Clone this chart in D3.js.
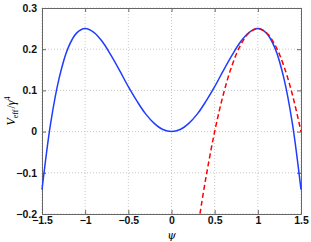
<!DOCTYPE html>
<html>
<head>
<meta charset="utf-8">
<script src="https://cdn.jsdelivr.net/npm/d3@7"></script>
<style>
body { margin: 0; background: #fff; }
</style>
</head>
<body>
<script>
var width = 311
var height = 242

// values
var psi = [-1.5, -1.4, -1.3, -1.2, -1.1, -1.0, -0.9, -0.8, -0.7, -0.6, -0.5, -0.4, -0.3, -0.2, -0.1,
  0, 0.1, 0.2, 0.3, 0.4, 0.5, 0.6, 0.7, 0.8, 0.9, 1.0, 1.1, 1.2, 1.3, 1.4, 1.5]
var veff = [-0.141, 0.020, 0.131, 0.202, 0.239, 0.250, 0.241, 0.218, 0.185, 0.148, 0.109, 0.074, 0.043, 0.020, 0.005,
  0, 0.005, 0.020, 0.043, 0.074, 0.109, 0.148, 0.185, 0.218, 0.241, 0.250, 0.239, 0.202, 0.131, 0.020, -0.141]

var psiApprox = [0.33, 0.4, 0.5, 0.6, 0.7, 0.8, 0.9, 1.0, 1.1, 1.2, 1.3, 1.4, 1.5]
var vApprox = [-0.199, -0.110, 0, 0.090, 0.160, 0.210, 0.240, 0.250, 0.240, 0.210, 0.160, 0.090, 0]

var xTicks = [-1.5, -1, -0.5, 0, 0.5, 1, 1.5]
var yTicks = [-0.2, -0.1, 0, 0.1, 0.2, 0.3]

var margin = { top: 8, bottom: 28, left: 42, right: 10 }
var w = width - margin.left - margin.right
var h = height - margin.top - margin.bottom

var svg = d3.select("body").append("svg")
  .attr("width", width)
  .attr("height", height)

var g = svg.append("g")
  .attr("transform", "translate(" + margin.left + "," + margin.top + ")")

var x = d3.scaleLinear().domain([-1.5, 1.5]).range([0, w])
var y = d3.scaleLinear().domain([-0.2, 0.3]).range([h, 0])

function fmt(v) {
  return d3.format("")(v).replace("-", "\u2013")
}

// grid
g.selectAll("line.gx").data(xTicks).enter().append("line")
  .attr("x1", function(d){ return x(d) }).attr("x2", function(d){ return x(d) })
  .attr("y1", 0).attr("y2", h)
  .attr("stroke", "#c8c8c8").attr("stroke-dasharray", "1,2")
g.selectAll("line.gy").data(yTicks).enter().append("line")
  .attr("y1", function(d){ return y(d) }).attr("y2", function(d){ return y(d) })
  .attr("x1", 0).attr("x2", w)
  .attr("stroke", "#c8c8c8").attr("stroke-dasharray", "1,2")

// axes
g.append("g")
  .attr("transform", "translate(0," + h + ")")
  .call(d3.axisBottom(x).tickValues(xTicks).tickSizeInner(-4).tickSizeOuter(0).tickPadding(3).tickFormat(fmt))
g.append("g")
  .call(d3.axisLeft(y).tickValues(yTicks).tickSizeInner(-4).tickSizeOuter(0).tickPadding(5).tickFormat(fmt))
g.append("g")
  .call(d3.axisTop(x).tickValues(xTicks).tickSizeInner(-4).tickSizeOuter(0).tickFormat(""))
g.append("g")
  .attr("transform", "translate(" + w + ",0)")
  .call(d3.axisRight(y).tickValues(yTicks).tickSizeInner(-4).tickSizeOuter(0).tickFormat(""))

g.selectAll(".domain").attr("stroke", "#666")
g.selectAll(".tick line").attr("stroke", "#666")
g.selectAll(".tick text")
  .attr("font-family", "Liberation Sans, Arial, sans-serif")
  .attr("font-size", 10.5)
  .attr("font-weight", "bold")
  .attr("fill", "#111")

// curves
var line = d3.line().curve(d3.curveCatmullRom)
  .x(function(d){ return x(d[0]) })
  .y(function(d){ return y(d[1]) })

g.append("path")
  .datum(psi.map(function(p, i){ return [p, veff[i]] }))
  .attr("d", line)
  .attr("fill", "none")
  .attr("stroke", "#1f3dff")
  .attr("stroke-width", 1.5)

g.append("path")
  .datum(psiApprox.map(function(p, i){ return [p, vApprox[i]] }))
  .attr("d", line)
  .attr("fill", "none")
  .attr("stroke", "#ff0000")
  .attr("stroke-width", 1.5)
  .attr("stroke-dasharray", "5,3")

// labels
svg.append("text")
  .attr("x", margin.left + w / 2)
  .attr("y", 239)
  .attr("text-anchor", "middle")
  .attr("font-family", "DejaVu Serif, serif")
  .attr("font-style", "italic")
  .attr("font-size", 11)
  .text("\u03c8")

var yl = svg.append("text")
  .attr("transform", "translate(15," + (margin.top + h / 2) + ") rotate(-90)")
  .attr("text-anchor", "middle")
  .attr("font-family", "Liberation Serif, serif")
  .attr("font-size", 12)
yl.append("tspan").attr("font-style", "italic").text("V")
yl.append("tspan").attr("font-size", 8).attr("dy", 3).text("eff")
yl.append("tspan").attr("dy", -3).attr("dx", 1).text("/")
yl.append("tspan").attr("font-style", "italic").text("\u03b3")
yl.append("tspan").attr("font-size", 8).attr("dy", -5).text("4")
</script>
</body>
</html>
